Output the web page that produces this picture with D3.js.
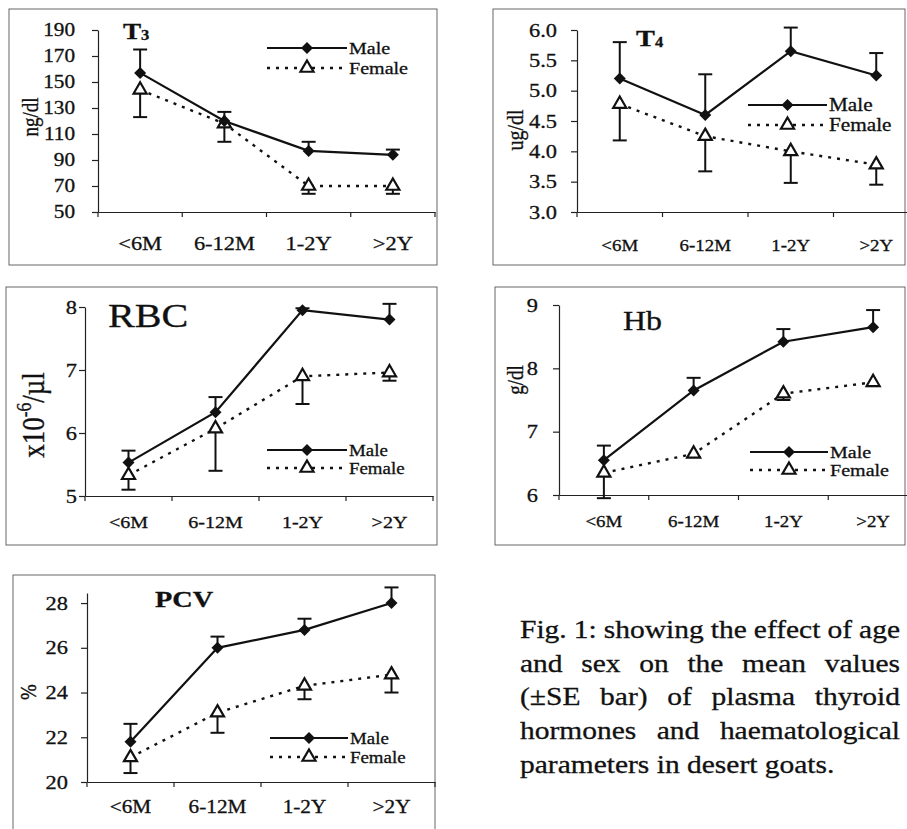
<!DOCTYPE html>
<html>
<head>
<meta charset="utf-8">
<script src="https://cdn.jsdelivr.net/npm/d3@7"></script>
<style>
  body { margin: 0; background: #fff; }
  svg { display: block; }
  text { font-family: "Liberation Serif", "Times New Roman", serif; fill: #111; stroke: #111; stroke-width: 0.3px; }
</style>
</head>
<body>
<div id="chart"></div>
<script>
var ageGroups = ["<6M", "6-12M", "1-2Y", ">2Y"];
var seriesNames = ["Male", "Female"];

var t3Male = [157, 120, 97, 94];
var t3MaleSE = [18, 7, 7, 4];
var t3Female = [144, 118, 70, 70];
var t3FemaleSE = [21, 14, 6, 6];
var t3Ticks = [50, 70, 90, 110, 130, 150, 170, 190];

var t4Male = [5.2, 4.6, 5.65, 5.25];
var t4MaleSE = [0.6, 0.67, 0.39, 0.37];
var t4Female = [4.78, 4.25, 4.0, 3.78];
var t4FemaleSE = [0.6, 0.58, 0.52, 0.33];
var t4Ticks = [3.0, 3.5, 4.0, 4.5, 5.0, 5.5, 6.0];

var rbcMale = [5.53, 6.33, 7.95, 7.8];
var rbcMaleSE = [0.19, 0.24, 0.03, 0.25];
var rbcFemale = [5.33, 6.07, 6.9, 6.96];
var rbcFemaleSE = [0.23, 0.67, 0.44, 0.13];
var rbcTicks = [5, 6, 7, 8];

var hbMale = [6.55, 7.65, 8.42, 8.65];
var hbMaleSE = [0.23, 0.2, 0.2, 0.27];
var hbFemale = [6.35, 6.65, 7.6, 7.78];
var hbFemaleSE = [0.4, 0.05, 0.1, 0.06];
var hbTicks = [6, 7, 8, 9];

var pcvMale = [21.8, 26.0, 26.8, 28.0];
var pcvMaleSE = [0.8, 0.5, 0.5, 0.7];
var pcvFemale = [21.1, 23.1, 24.3, 24.8];
var pcvFemaleSE = [0.7, 0.9, 0.6, 0.8];
var pcvTicks = [20, 22, 24, 26, 28];

var captionLines = [
  "Fig. 1: showing the effect of age",
  "and sex on the mean values",
  "(\u00b1SE bar) of plasma thyroid",
  "hormones and haematological",
  "parameters in desert goats."
];

// the scanned figure is wider than plain Times, so text gets stretched a bit
var SX = 1.18;

var svg = d3.select("#chart").append("svg").attr("width", 907).attr("height", 829);

var panels = [
  { male: t3Male, maleSE: t3MaleSE, female: t3Female, femaleSE: t3FemaleSE, ticks: t3Ticks,
    fmt: d3.format("d"), domain: [50, 190],
    frame: [9, 9, 437, 265], xRange: [98, 435], yRange: [212, 30],
    tickDx: -23, tickFont: 18, xLabelDy: 38, xLabelFont: 19,
    title: { text: "T", sub: "3", x: 123, y: 39, size: 23, weight: "bold" },
    legend: { x0: 267, x1: 347, y: [48, 68], size: 17 },
    yLabel: { text: "ng/dl", x: 30, y: 117, size: 19 } },
  { male: t4Male, maleSE: t4MaleSE, female: t4Female, femaleSE: t4FemaleSE, ticks: t4Ticks,
    fmt: d3.format(".1f"), domain: [3, 6],
    frame: [493, 9, 905, 265], xRange: [577, 919], yRange: [212, 30],
    tickDx: -20, tickFont: 19, xLabelDy: 39, xLabelFont: 16,
    title: { text: "T", sub: "4", x: 636, y: 46, size: 24, weight: "bold" },
    legend: { x0: 748, x1: 827, y: [105, 125], size: 18 },
    yLabel: { text: "ug/dl", x: 515, y: 130, size: 20 } },
  { male: rbcMale, maleSE: rbcMaleSE, female: rbcFemale, femaleSE: rbcFemaleSE, ticks: rbcTicks,
    fmt: d3.format("d"), domain: [5, 8],
    frame: [6, 287, 437, 545], xRange: [85, 433], yRange: [496, 307],
    tickDx: -8, tickFont: 19, xLabelDy: 32, xLabelFont: 17,
    title: { text: "RBC", x: 108, y: 327, size: 34, weight: "normal" },
    legend: { x0: 267, x1: 347, y: [450, 468], size: 16 },
    yLabel: { text: "x10", sup: "-6", after: "/\u00b5l", x: 33, y: 415, size: 27 } },
  { male: hbMale, maleSE: hbMaleSE, female: hbFemale, femaleSE: hbFemaleSE, ticks: hbTicks,
    fmt: d3.format("d"), domain: [6, 9],
    frame: [495, 287, 905, 545], xRange: [559, 918], yRange: [495, 305],
    tickDx: -21, tickFont: 19, xLabelDy: 32, xLabelFont: 16,
    title: { text: "Hb", x: 623, y: 330, size: 27, weight: "normal" },
    legend: { x0: 750, x1: 828, y: [452, 470], size: 17 },
    yLabel: { text: "g/dl", x: 515, y: 380, size: 19 } },
  { male: pcvMale, maleSE: pcvMaleSE, female: pcvFemale, femaleSE: pcvFemaleSE, ticks: pcvTicks,
    fmt: d3.format("d"), domain: [20, 28.45],
    frame: [13, 575, 435, 840], xRange: [87, 435], yRange: [782, 593],
    tickDx: -19, tickFont: 19, xLabelDy: 31, xLabelFont: 18,
    title: { text: "PCV", x: 155, y: 607, size: 24, weight: "bold" },
    legend: { x0: 270, x1: 348, y: [738, 757], size: 16 },
    yLabel: { text: "%", x: 28, y: 692, size: 19 } }
];

var diamond = d3.symbol().type(d3.symbolSquare).size(72);
var triangle = d3.symbol().type(d3.symbolTriangle).size(74);

function addMarker(g, kind, x, y) {
  if (kind === 0) {
    g.append("path").attr("d", diamond())
      .attr("transform", "translate(" + x + "," + y + ") rotate(45)")
      .attr("fill", "#111");
  } else {
    g.append("path").attr("d", triangle())
      .attr("transform", "translate(" + x + "," + y + ")")
      .attr("fill", "#fff").attr("stroke", "#111").attr("stroke-width", 2.2);
  }
}

function drawPanel(p) {
  var g = svg.append("g");
  g.append("rect")
    .attr("x", p.frame[0]).attr("y", p.frame[1])
    .attr("width", p.frame[2] - p.frame[0]).attr("height", p.frame[3] - p.frame[1])
    .attr("fill", "none").attr("stroke", "#666").attr("stroke-width", 1);

  var x = d3.scaleBand().domain(ageGroups).range(p.xRange);
  var y = d3.scaleLinear().domain(p.domain).range(p.yRange);
  var cx = function (i) { return x(ageGroups[i]) + x.bandwidth() / 2; };

  // y axis
  var ya = g.append("g").attr("transform", "translate(" + p.xRange[0] + ",0)")
    .call(d3.axisLeft(y).tickValues(p.ticks).tickSize(6).tickSizeOuter(0).tickFormat(p.fmt));
  ya.selectAll("path, line").attr("stroke", "#222").attr("stroke-width", 1.2);
  ya.selectAll("text")
    .attr("x", p.tickDx / SX)
    .attr("transform", "scale(" + SX + ",1)")
    .style("font-size", p.tickFont + "px");

  // x axis: labels in the middle of each group, ticks between groups
  var xa = g.append("g").attr("transform", "translate(0," + p.yRange[0] + ")")
    .call(d3.axisBottom(x).tickSize(0).tickSizeOuter(0));
  xa.select(".domain").attr("stroke", "#222").attr("stroke-width", 1.2);
  xa.selectAll("text")
    .attr("y", 0).attr("dy", 0)
    .attr("transform", "translate(0," + p.xLabelDy + ") scale(" + SX + ",1)")
    .style("font-size", p.xLabelFont + "px");
  var edges = ageGroups.map(function (c) { return x(c); }).concat([x.range()[1]]);
  g.append("g").selectAll("line").data(edges).join("line")
    .attr("x1", function (d) { return d; }).attr("x2", function (d) { return d; })
    .attr("y1", p.yRange[0]).attr("y2", p.yRange[0] + 5)
    .attr("stroke", "#222").attr("stroke-width", 1.2);

  // lines
  var line = d3.line().x(function (d, i) { return cx(i); }).y(function (d) { return y(d); });
  g.append("path").datum(p.female).attr("d", line)
    .attr("fill", "none").attr("stroke", "#111").attr("stroke-width", 2.4)
    .attr("stroke-dasharray", "3,6");
  g.append("path").datum(p.male).attr("d", line)
    .attr("fill", "none").attr("stroke", "#111").attr("stroke-width", 2.2);

  // SE bars: male upwards, female downwards
  var bars = [];
  p.male.forEach(function (v, i) { bars.push({ i: i, from: v, to: v + p.maleSE[i] }); });
  p.female.forEach(function (v, i) { bars.push({ i: i, from: v, to: v - p.femaleSE[i] }); });
  var eb = g.append("g").attr("stroke", "#111").attr("stroke-width", 2);
  eb.selectAll("line.stem").data(bars).join("line").attr("class", "stem")
    .attr("x1", function (d) { return cx(d.i); }).attr("x2", function (d) { return cx(d.i); })
    .attr("y1", function (d) { return y(d.from); }).attr("y2", function (d) { return y(d.to); });
  eb.selectAll("line.cap").data(bars).join("line").attr("class", "cap")
    .attr("x1", function (d) { return cx(d.i) - 7; }).attr("x2", function (d) { return cx(d.i) + 7; })
    .attr("y1", function (d) { return y(d.to); }).attr("y2", function (d) { return y(d.to); });

  p.female.forEach(function (v, i) { addMarker(g, 1, cx(i), y(v)); });
  p.male.forEach(function (v, i) { addMarker(g, 0, cx(i), y(v)); });

  // legend
  var L = p.legend;
  seriesNames.forEach(function (name, k) {
    var ly = L.y[k];
    g.append("line").attr("x1", L.x0).attr("x2", L.x1).attr("y1", ly).attr("y2", ly)
      .attr("stroke", "#111").attr("stroke-width", k === 0 ? 2.2 : 2.4)
      .attr("stroke-dasharray", k === 0 ? null : "3,6");
    addMarker(g, k, (L.x0 + L.x1) / 2, ly);
    g.append("text")
      .attr("transform", "translate(" + (L.x1 + 2) + "," + (ly + 6) + ") scale(" + SX + ",1)")
      .style("font-size", L.size + "px")
      .text(name);
  });

  // title
  var T = p.title;
  var tt = g.append("text")
    .attr("transform", "translate(" + T.x + "," + T.y + ") scale(" + SX + ",1)")
    .style("font-size", T.size + "px").style("font-weight", T.weight);
  tt.append("tspan").text(T.text);
  if (T.sub) tt.append("tspan").attr("dy", 1).style("font-size", "14px").text(T.sub);

  // rotated unit label
  var Y = p.yLabel;
  var yl = g.append("text")
    .attr("transform", "translate(" + Y.x + "," + Y.y + ") scale(" + SX + ",1) rotate(-90)")
    .attr("text-anchor", "middle")
    .style("font-size", Y.size + "px");
  if (Y.sup) {
    yl.append("tspan").attr("dy", Y.size * 0.35).text(Y.text);
    yl.append("tspan").attr("dy", -Y.size * 0.42).style("font-size", (Y.size * 0.65) + "px").text(Y.sup);
    yl.append("tspan").attr("dy", Y.size * 0.42).text(Y.after);
  } else {
    yl.attr("dy", "0.35em").text(Y.text);
  }
}

panels.forEach(drawPanel);

// justified caption
var capLeft = 520, capRight = 900, capFont = 25;
var capBase = [638, 672, 705, 739, 773];
captionLines.forEach(function (txt, k) {
  var lg = svg.append("g")
    .attr("transform", "translate(" + capLeft + "," + capBase[k] + ") scale(" + SX + ",1)")
    .style("font-size", capFont + "px");
  if (k === captionLines.length - 1) {
    lg.append("text").text(txt);
    return;
  }
  var words = txt.split(" ");
  var nodes = words.map(function (w) { return lg.append("text").text(w); });
  var widths = nodes.map(function (n) { return n.node().getComputedTextLength(); });
  var avail = (capRight - capLeft) / SX;
  var gap = (avail - d3.sum(widths)) / (words.length - 1);
  var pos = 0;
  nodes.forEach(function (n, i) {
    n.attr("x", pos);
    pos += widths[i] + gap;
  });
});
</script>
</body>
</html>
